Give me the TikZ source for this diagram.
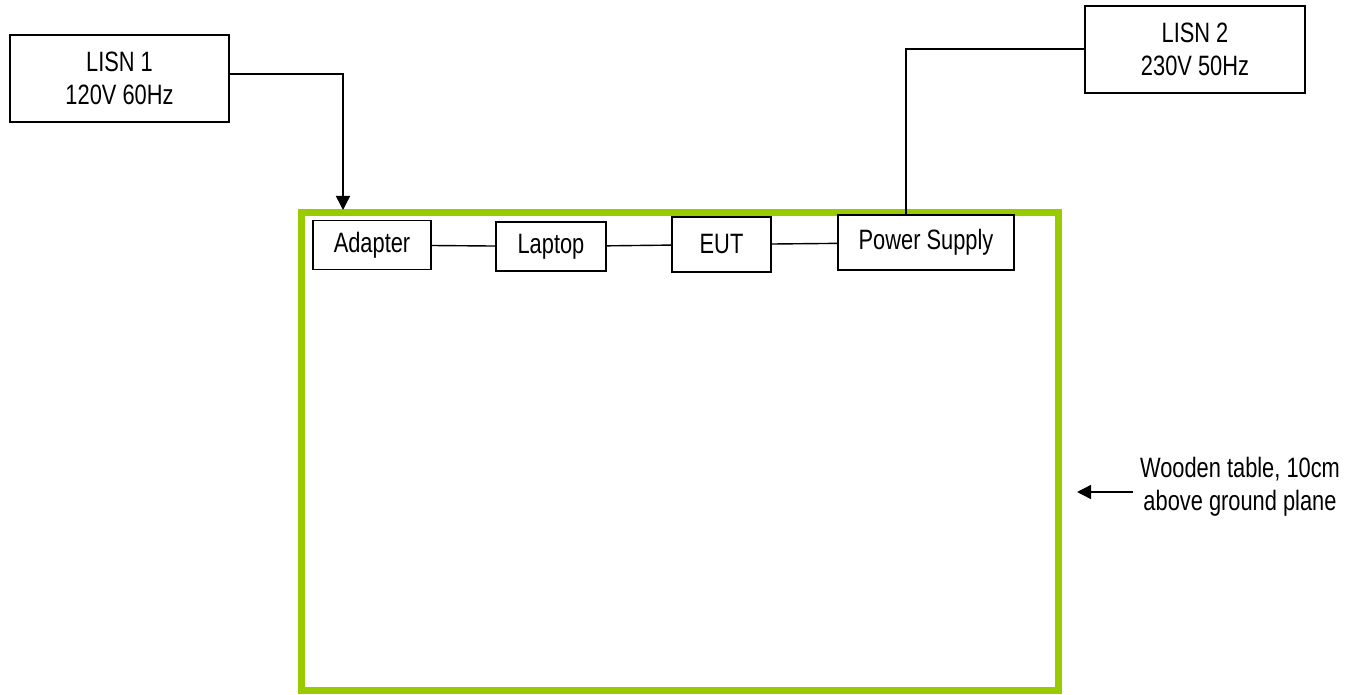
\documentclass[tikz,border=0pt]{standalone}
\usepackage{fontspec}
\setmainfont{Liberation Sans}[FakeStretch=0.78]
\usepackage{tikz}
\usetikzlibrary{arrows.meta}
\usetikzlibrary{positioning}

\definecolor{tablegreen}{HTML}{99CC00}

\tikzset{
  unitbox/.style={draw, line width=0.7pt, inner sep=0pt, align=center, font=\fontsize{14pt}{16.5pt}\selectfont},
  cable/.style={line width=0.7pt},
  feed/.style={cable, -{Triangle[length=7pt,width=7pt]}}
}

\begin{document}
\begin{tikzpicture}[x=0.5pt, y=-0.5pt]
                \useasboundingbox (0,0) rectangle (1356,695);
                % wooden table
                \draw[tablegreen, line width=3.5pt] (301,212.5) rectangle (1058.5,690);
                % supplies
                \node[unitbox, minimum width=109.5pt, minimum height=43.5pt] (lisn1) at (119.5,78.5) {LISN 1\\120V 60Hz};
                \node[unitbox, minimum width=110pt, minimum height=43.5pt] (lisn2) at (1195,49.5) {LISN 2\\230V 50Hz};
                % units on the table
                \node[unitbox, minimum width=59pt, minimum height=24.5pt] (adapter) at (372,245) {Adapter};
                \node[unitbox, minimum width=55pt, minimum height=24.5pt] (laptop) at (551,246.5) {Laptop};
                \node[unitbox, minimum width=49.5pt, minimum height=27.5pt] (eut) at (721.5,244.5) {EUT};
                \node[unitbox, minimum width=88pt, minimum height=27.5pt] (psu) at (926,242.5) {Power Supply};
                \draw[cable] (adapter) -- (laptop);
                \draw[cable] (laptop) -- (eut);
                \draw[cable] (eut) -- (psu);
                % mains feeds
                \coordinate (bend1) at (343,74);
                \coordinate (drop1) at (343,210);
                \draw[feed] (lisn1.east |- bend1) -- (bend1) -- (drop1);
                \coordinate (bend2) at (906,49);
                \draw[cable] (lisn2.west |- bend2) -- (bend2) -- (bend2 |- psu.north);
                % table label
                \node[align=center, inner sep=0pt, font=\fontsize{14pt}{16.5pt}\selectfont] (tablelabel) at (1240,487) {Wooden table, 10cm\\above ground plane};
                \coordinate (tabletail) at (1133,492);
                \coordinate (tabletip) at (1077,492);
                \draw[feed] (tabletail) -- (tabletip);
            \end{tikzpicture}
\end{document}
